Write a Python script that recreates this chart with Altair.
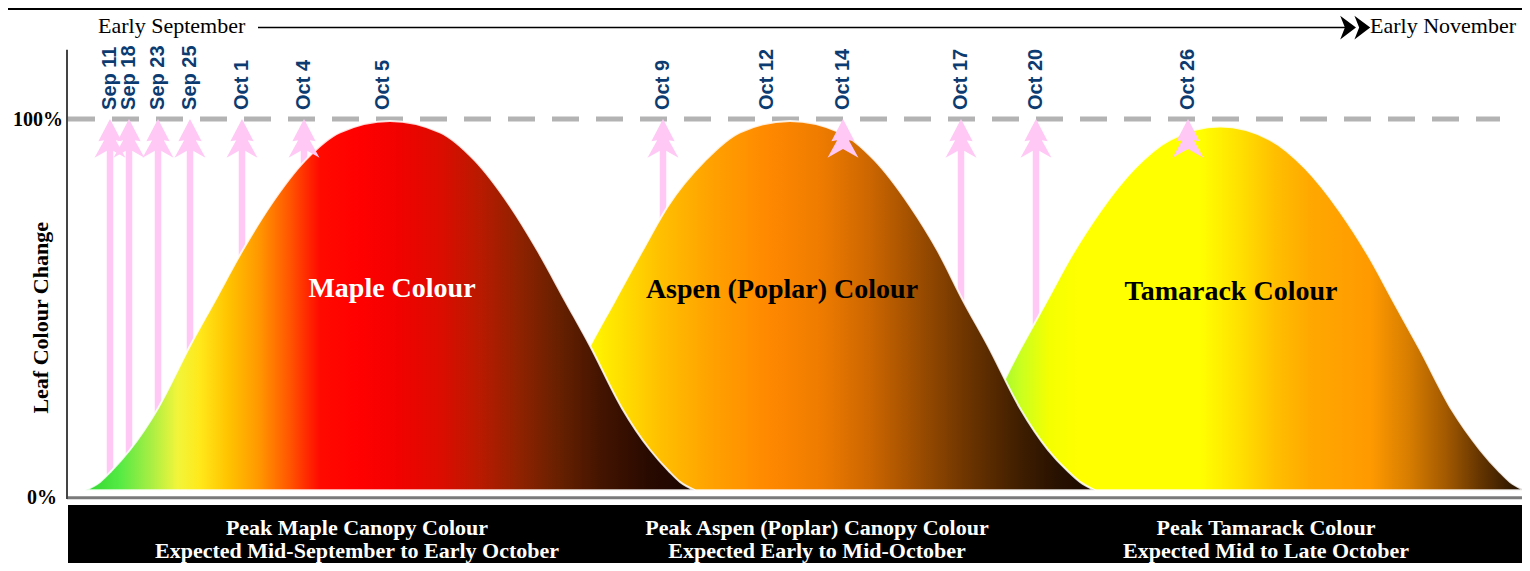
import altair as alt
import pandas as pd

# ---------------- data ----------------
# date labels along the (schematic) season timeline and where they sit on it
date_labels = ["Sep 11", "Sep 18", "Sep 23", "Sep 25", "Oct 1", "Oct 4", "Oct 5",
               "Oct 9", "Oct 12", "Oct 14", "Oct 17", "Oct 20", "Oct 26"]
date_position = [110, 129, 158, 190, 242, 304, 383, 663, 767, 843, 961, 1036, 1188]
# dates that carry a pink arrow
arrow_dates = ["Sep 11", "Sep 18", "Sep 23", "Sep 25", "Oct 1", "Oct 4",
               "Oct 9", "Oct 14", "Oct 17", "Oct 20", "Oct 26"]

# leaf colour change curves (timeline position, % change)
maple_position = [85, 100, 111, 130, 158, 190, 215, 242, 270, 305, 340, 390,
                  440, 475, 510, 538, 565, 590, 622, 650, 669, 680, 695]
maple_change = [1.8, 4, 6.8, 12.5, 23.5, 40, 52, 65, 77, 89, 96.5, 99.5,
                96.5, 89, 77, 65, 52, 40, 23.5, 12.5, 6.8, 4, 1.8]
aspen_position = [485, 500, 511, 530, 558, 590, 615, 642, 668, 705, 740, 790,
                  840, 875, 910, 938, 963, 988, 1020, 1048, 1068, 1080, 1095]
aspen_change = [1.8, 4, 6.8, 12.5, 23.5, 40, 52, 65, 77, 89, 96.5, 99.5,
                96.5, 89, 77, 65, 52, 40, 23.5, 12.5, 6.8, 4, 1.8]
tamarack_position = [915, 930, 941, 960, 988, 1020, 1045, 1072, 1100, 1135, 1170, 1220,
                     1270, 1305, 1340, 1368, 1395, 1420, 1452, 1480, 1499, 1510, 1525]
tamarack_change = [1.8, 4, 6.8, 12.5, 23, 39, 51, 64, 75.5, 87, 94.5, 98,
                   94.5, 87, 75.5, 64, 51, 39, 23, 12.5, 6.8, 4, 1.8]

curve_names = ["Maple Colour", "Aspen (Poplar) Colour", "Tamarack Colour"]
peak_titles = ["Peak Maple Canopy Colour", "Peak Aspen (Poplar) Canopy Colour",
               "Peak Tamarack Colour"]
peak_windows = ["Expected Mid-September to Early October",
                "Expected Early to Mid-October", "Expected Mid to Late October"]
timeline_start = "Early September"
timeline_end = "Early November"
y_title = "Leaf Colour Change"
y_ticks = [0, 100]

# ---------------- scales & helpers ----------------
XS = alt.Scale(domain=[68, 1522], nice=False, zero=False)
YS = alt.Scale(domain=[-17.46, 129.37], nice=False, zero=False)
PINK = "#ffc8f5"
NAVY = "#0b3b70"
SERIF = "Liberation Serif"
SANS = "Liberation Sans"
one = pd.DataFrame({"k": [0]})


def XD(v):
    return alt.XDatum(v, scale=XS, axis=None)


def YD(v):
    return alt.YDatum(v, scale=YS, axis=None)


def XF(f):
    return alt.X(f, type="quantitative", scale=XS, axis=None)


def YF(f):
    return alt.Y(f, type="quantitative", scale=YS, axis=None)


def grad(stops):
    return alt.LinearGradient(
        gradient="linear", x1=0, x2=1, y1=0, y2=0,
        stops=[alt.GradientStop(offset=o, color=c) for o, c in stops])


# ---------------- decorations ----------------
bottom_band = alt.Chart(one).mark_rect(color="black").encode(
    x=XD(68), x2=alt.datum(1540), y=YD(-2.1), y2=alt.datum(-30))
top_band = alt.Chart(one).mark_rect(color="black").encode(
    x=XD(0), x2=alt.datum(1540), y=YD(128.84), y2=alt.datum(140))
base_line = alt.Chart(one).mark_rule(color="#7a7a7a", strokeWidth=3).encode(
    x=XD(67), x2=alt.datum(1540), y=YD(-0.2))
left_line = alt.Chart(one).mark_rule(color="#444444", strokeWidth=2).encode(
    x=XD(67), y=YD(-0.5), y2=alt.datum(118.3))

dashed = alt.Chart(one).mark_rule(color="#b3b3b3", strokeWidth=5,
                                  strokeDash=[27, 17]).encode(
    x=XD(68), x2=alt.datum(1500), y=YD(100))

# y axis labels and title
ytick_df = pd.DataFrame({"v": y_ticks, "lab": [f"{v}%" for v in y_ticks],
                         "pos": [57, 63]})
ytick_text = alt.Chart(ytick_df).mark_text(
    align="right", baseline="middle", font=SERIF, fontWeight="bold",
    fontSize=20, color="black", dy=1).encode(x=XF("pos"), y=YF("v"), text="lab:N")
ytitle = alt.Chart(pd.DataFrame({"t": [y_title]})).mark_text(
    angle=270, align="center", baseline="middle", font=SERIF, fontWeight="bold",
    fontSize=22, color="black").encode(x=XD(41), y=YD(47.4), text="t:N")

dates_df = pd.DataFrame({"label": date_labels, "pos": date_position})
arrows_df = dates_df[dates_df["label"].isin(arrow_dates)]

shafts = alt.Chart(arrows_df).mark_rule(color=PINK, strokeWidth=6.5).encode(
    x=XF("pos"), y=YD(1.8), y2=alt.datum(96))

HEAD = ("M0,0 L-0.6,1.15 L-0.3,1.1 L-0.8,2 L0,1.55 L0.8,2 "
        "L0.3,1.1 L0.6,1.15 Z")
heads = alt.Chart(arrows_df).mark_point(shape=HEAD, filled=True, size=1500,
                                        color=PINK, opacity=1, strokeWidth=0).encode(
    x=XF("pos"), y=YD(100))

date_text = alt.Chart(dates_df).mark_text(
    angle=270, align="left", baseline="middle", font=SANS, fontWeight="bold",
    fontSize=20, color=NAVY).encode(x=XF("pos"), y=YD(102.4), text="label:N")


def curve(pos, chg, stops):
    df = pd.DataFrame({"pos": pos, "chg": chg})
    return alt.Chart(df).mark_area(
        interpolate="monotone", color=grad(stops), stroke="white",
        strokeWidth=2, strokeOpacity=0.85).encode(
        x=XF("pos"), y=YF("chg"), y2=alt.datum(1.8))


maple = curve(maple_position, maple_change, [
    (0.0, "#2fd62f"), (0.057, "#55ea44"), (0.107, "#a6ee44"), (0.152, "#f2f53a"),
    (0.189, "#ffe81a"), (0.234, "#ffc400"), (0.284, "#ff9900"), (0.336, "#ff5500"),
    (0.385, "#ff0a00"), (0.451, "#ff0000"), (0.516, "#f00200"), (0.582, "#dc0c00"),
    (0.648, "#b81a00"), (0.713, "#8e2200"), (0.779, "#662000"), (0.844, "#441400"),
    (0.926, "#280a00"), (1.0, "#1a0600")])
aspen = curve(aspen_position, aspen_change, [
    (0.0, "#66dd33"), (0.09, "#b8f01a"), (0.172, "#fff700"), (0.221, "#ffe000"),
    (0.287, "#ffc000"), (0.369, "#ffa200"), (0.467, "#ff8800"), (0.549, "#ef7c00"),
    (0.631, "#cc6600"), (0.713, "#9a4c00"), (0.795, "#6a3300"), (0.877, "#3f1e00"),
    (0.943, "#261000"), (1.0, "#1a0800")])
tamarack = curve(tamarack_position, tamarack_change, [
    (0.0, "#44dd44"), (0.123, "#8cf53a"), (0.172, "#c8ff20"), (0.221, "#f5ff00"),
    (0.27, "#ffff00"), (0.467, "#ffff00"), (0.533, "#ffe000"), (0.59, "#ffbf00"),
    (0.648, "#ffa800"), (0.746, "#ff9a00"), (0.811, "#d67c00"), (0.869, "#a45a00"),
    (0.926, "#653500"), (1.0, "#1e0e00")])

# timeline arrow at top
tl_line = alt.Chart(one).mark_rule(color="black", strokeWidth=1.5).encode(
    x=XD(258), x2=alt.datum(1350), y=YD(124.2))
CHEV = "M-1,-0.75 L0,0 L-1,0.75 L-0.7,0 Z M-0.1,-0.75 L0.9,0 L-0.1,0.75 L0.2,0 Z"
tl_head = alt.Chart(one).mark_point(shape=CHEV, filled=True, size=1000,
                                    color="black", opacity=1, strokeWidth=0).encode(
    x=XD(1356), y=YD(124.2))
tl_text = alt.Chart(pd.DataFrame({"t": [timeline_start, timeline_end],
                                  "pos": [98, 1370]})).mark_text(
    align="left", baseline="alphabetic", font=SERIF, fontSize=22,
    color="black").encode(x=XF("pos"), y=YD(122.75), text="t:N")

# curve names
names_df = pd.DataFrame({"name": curve_names, "pos": [392, 782, 1231],
                         "lvl": [55.0, 54.8, 54.2]})
names = alt.Chart(names_df).mark_text(
    align="center", baseline="middle", font=SERIF, fontWeight="bold",
    fontSize=28).encode(
    x=XF("pos"), y=YF("lvl"), text="name:N",
    color=alt.Color("name:N", scale=alt.Scale(domain=curve_names,
                                              range=["white", "black", "black"]),
                    legend=None))

# bottom captions
cap_df = pd.DataFrame({"t": peak_titles + peak_windows,
                       "pos": [357, 817, 1266] * 2,
                       "lvl": [-8.2] * 3 + [-14.2] * 3})
captions = alt.Chart(cap_df).mark_text(
    align="center", baseline="middle", font=SERIF, fontWeight="bold",
    fontSize=22, color="white").encode(x=XF("pos"), y=YF("lvl"), text="t:N")

chart = alt.layer(
    top_band, bottom_band, dashed, shafts, tamarack, aspen, maple,
    base_line, left_line, heads, date_text, tl_line, tl_head, tl_text,
    names, captions, ytick_text, ytitle
).properties(
    width=1454, height=555,
    padding={"left": 60, "top": 0, "right": 0, "bottom": 0},
    autosize=alt.AutoSizeParams(type="none"),
    background="white",
).configure_view(stroke=None)

chart.save("out.html", embed_options={"renderer": "svg", "actions": False})
